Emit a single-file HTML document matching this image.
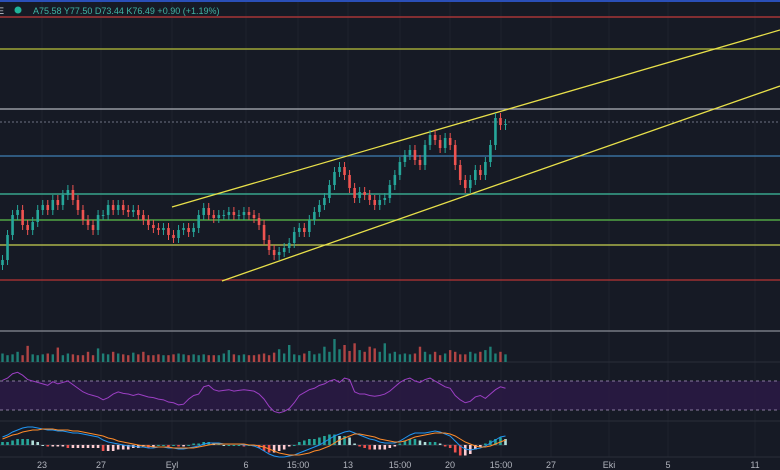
<!DOCTYPE html>
<html><head><meta charset="utf-8"><style>
html,body{margin:0;padding:0;background:#161a25;}
svg{display:block;font-family:"Liberation Sans",sans-serif;}
</style></head><body>
<svg id="chart" width="780" height="470" viewBox="0 0 780 470" xmlns="http://www.w3.org/2000/svg">
<rect width="780" height="470" fill="#161a25"/>
<g id="grid"></g>
<rect x="0" y="0" width="780" height="2" fill="#2a4fb8"/>
<g id="levels"></g>
<line x1="172" y1="207" x2="780" y2="30" stroke="#e8e04a" stroke-width="1.3"/>
<line x1="222" y1="281" x2="780" y2="86" stroke="#e8e04a" stroke-width="1.3"/>
<g id="candles"></g>
<line x1="0" y1="331" x2="780" y2="331" stroke="#8a8d96" stroke-width="1.2"/>
<line x1="0" y1="362" x2="780" y2="362" stroke="#2a2e39"/>
<line x1="0" y1="421" x2="780" y2="421" stroke="#2a2e39"/>
<line x1="0" y1="457" x2="780" y2="457" stroke="#2a2e39"/>
<g id="volume"></g>
<rect x="0" y="381" width="780" height="29" fill="#2a1a45" opacity="0.85"/>
<line x1="0" y1="381" x2="780" y2="381" stroke="#8a7aa0" stroke-dasharray="3,3"/>
<line x1="0" y1="410" x2="780" y2="410" stroke="#8a7aa0" stroke-dasharray="3,3"/>
<g id="rsi"></g>
<g id="macd"></g>
<g id="xaxis"></g>
<text x="-2" y="14" fill="#d1d4dc" font-size="9">E</text>
<circle cx="18" cy="10" r="3.5" fill="#1fb39a"/>
<text x="33" y="14" fill="#3fb4a4" font-size="9">A75.58 Y77.50 D73.44 K76.49 +0.90 (+1.19%)</text>
</svg>
<script>
const closes=[62.69,65.19,67.19,67.69,66.19,65.69,66.49,67.69,68.19,67.69,
68.69,68.19,69.19,69.69,68.69,67.69,66.69,66.19,65.69,67.19,
67.19,68.19,67.69,68.19,67.69,67.49,67.69,67.19,66.69,66.19,
65.89,65.69,65.89,65.19,64.89,65.69,65.89,65.49,65.89,67.19,
67.89,67.19,66.89,67.19,67.19,67.49,67.19,67.19,67.49,67.19,
66.89,66.19,64.69,63.69,63.19,63.49,63.89,64.39,65.49,65.89,
65.49,66.69,67.49,68.19,68.89,70.19,71.49,71.99,71.19,69.89,
68.89,69.49,69.19,68.69,68.19,68.69,68.89,70.19,71.19,72.49,
73.19,73.69,72.69,72.19,74.19,75.19,74.69,73.89,74.89,74.19,
72.19,70.69,69.89,70.69,71.69,71.19,72.49,74.19,76.89,76.19,
76.29];
const volumes=[10,8,9,12,8,19,9,8,9,10,9,17,8,10,9,8,8,12,8,16,10,9,12,10,9,8,11,9,12,8,8,9,8,8,9,10,9,8,9,8,9,8,8,8,10,14,9,8,9,8,8,9,10,8,11,15,10,20,9,8,10,13,9,10,18,12,27,15,20,13,22,14,12,18,16,12,22,10,12,9,10,9,10,18,12,9,12,8,10,14,12,9,9,12,10,12,14,18,10,12,9];
const rsiValues=[71,74,80,82,78,72,70,68,66,64,69,66,68,70,65,60,55,52,50,48,44,47,52,55,53,52,50,52,50,48,47,45,44,41,40,37,38,45,50,52,62,64,58,56,57,58,56,57,58,57,56,52,45,35,28,26,28,32,40,50,54,58,60,64,66,70,72,68,74,72,55,52,52,50,49,50,52,56,62,68,72,74,70,68,72,74,70,66,62,60,50,44,40,42,48,50,46,52,58,62,60];
const macdValues=[8,10,13,15,17,18,18,17,16,15,15,14,14,13,12,12,11,10,9,8,5,3,2,1,0,-1,-1,-2,-2,-3,-3,-2,-2,-3,-3,-4,-4,-3,-2,-1,1,2,2,2,1,1,1,1,0,0,-1,-3,-6,-9,-11,-12,-12,-11,-10,-8,-6,-4,-2,0,3,6,9,11,13,14,12,10,8,6,5,3,2,2,2,4,7,10,12,12,12,13,14,13,11,9,4,-1,-4,-5,-4,-3,-1,2,5,8,9];
const signalValues=[6,8,10,11,13,14,15,15,16,16,16,15,15,15,14,14,13,12,11,10,9,7,6,4,3,2,1,0,-1,-1,-2,-2,-2,-2,-3,-3,-3,-3,-3,-2,-1,0,1,1,1,1,1,1,1,0,0,-1,-2,-4,-6,-8,-9,-10,-10,-10,-9,-8,-6,-5,-3,-1,2,5,7,9,11,11,10,9,8,6,5,4,3,3,4,6,8,9,10,11,12,12,12,11,9,6,3,1,-1,-2,-2,-1,1,3,5];
const levelPrices=[86.99,83.79,77.79,76.49,73.09,69.29,66.69,64.19,60.69];
const levelColors=["#c23a3a","#b9c23a","#b0b3ba","#5d6270","#3f7fb3","#3fc0a0","#5cc04a","#c8d050","#b83434"];
const xTickLabels=["23","27","Eyl","6","15:00","13","15:00","20","15:00","27","Eki","5","11"];
const xTickPos=[42,101,172,246,298,348,400,450,501,551,609,668,755];

const NS="http://www.w3.org/2000/svg";
function mk(tag,attrs,parent){const e=document.createElementNS(NS,tag);for(const k in attrs)e.setAttribute(k,attrs[k]);parent.appendChild(e);return e;}
const yPrice=p=>122-(p-76.49)*10;
const xIdx=i=>2.5+i*5.03;
const yVol=v=>362-v*0.85;
const yRsi=r=>381+(70-r)*29/40;
const yMacd=v=>445-v;

const grid=document.getElementById('grid');
xTickPos.forEach((x,i)=>{const l=mk('line',{x1:x,y1:0,x2:x,y2:457,stroke:'#1e222d'},grid);

});

const lv=document.getElementById('levels');
levelPrices.forEach((p,i)=>{const l=mk('line',{x1:0,y1:yPrice(p),x2:780,y2:yPrice(p),stroke:levelColors[i],'stroke-width':1.2},lv);
if(i===3)l.setAttribute('stroke-dasharray','2,2');

});

const cg=document.getElementById('candles');
const vg=document.getElementById('volume');
closes.forEach((c,i)=>{const o=i?closes[i-1]:c-0.5;const up=c>=o;const col=up?'#26a69a':'#ef5350';const x=xIdx(i);
const hi=Math.max(o,c)+0.5,lo=Math.min(o,c)-0.5;
const w=mk('line',{x1:x,y1:yPrice(hi),x2:x,y2:yPrice(lo),stroke:col,'stroke-width':1},cg);


const top=yPrice(Math.max(o,c)),bot=yPrice(Math.min(o,c));
const b=mk('rect',{x:x-1.3,y:top,width:2.6,height:Math.max(1,bot-top),fill:col},cg);


const v=mk('rect',{x:x-1.2,y:yVol(volumes[i]),width:2.4,height:362-yVol(volumes[i]),fill:up?'#1f7f76':'#b04444'},vg);

});

const rg=document.getElementById('rsi');
const rl=mk('polyline',{points:rsiValues.map((r,i)=>xIdx(i)+','+yRsi(r)).join(' '),fill:'none',stroke:'#9c3fc4','stroke-width':1},rg);



const mg=document.getElementById('macd');
const z=mk('line',{x1:0,y1:yMacd(0),x2:507,y2:yMacd(0),stroke:'#3a3e4a'},mg);


macdValues.forEach((m,i)=>{const h=(m-signalValues[i])*1.5;const prev=i?(macdValues[i-1]-signalValues[i-1])*1.5:h;
let col=h>=0?(h>=prev?'#26a69a':'#b2dfdb'):(h<prev?'#ef5350':'#ffcdd2');
const y0=yMacd(0),y1=yMacd(h);
const r=mk('rect',{x:xIdx(i)-1.3,y:Math.min(y0,y1),width:2.6,height:Math.max(1,Math.abs(y1-y0)),fill:col},mg);

});
const ml=mk('polyline',{points:macdValues.map((v,i)=>xIdx(i)+','+yMacd(v)).join(' '),fill:'none',stroke:'#2196f3','stroke-width':1},mg);


const sl=mk('polyline',{points:signalValues.map((v,i)=>xIdx(i)+','+yMacd(v)).join(' '),fill:'none',stroke:'#ff8c2a','stroke-width':1},mg);



const xa=document.getElementById('xaxis');
xTickLabels.forEach((t,i)=>{const e=mk('text',{x:xTickPos[i],y:468,fill:'#b2b5be','font-size':9,'text-anchor':'middle'},xa);e.textContent=t;

});
</script>
</body></html>
